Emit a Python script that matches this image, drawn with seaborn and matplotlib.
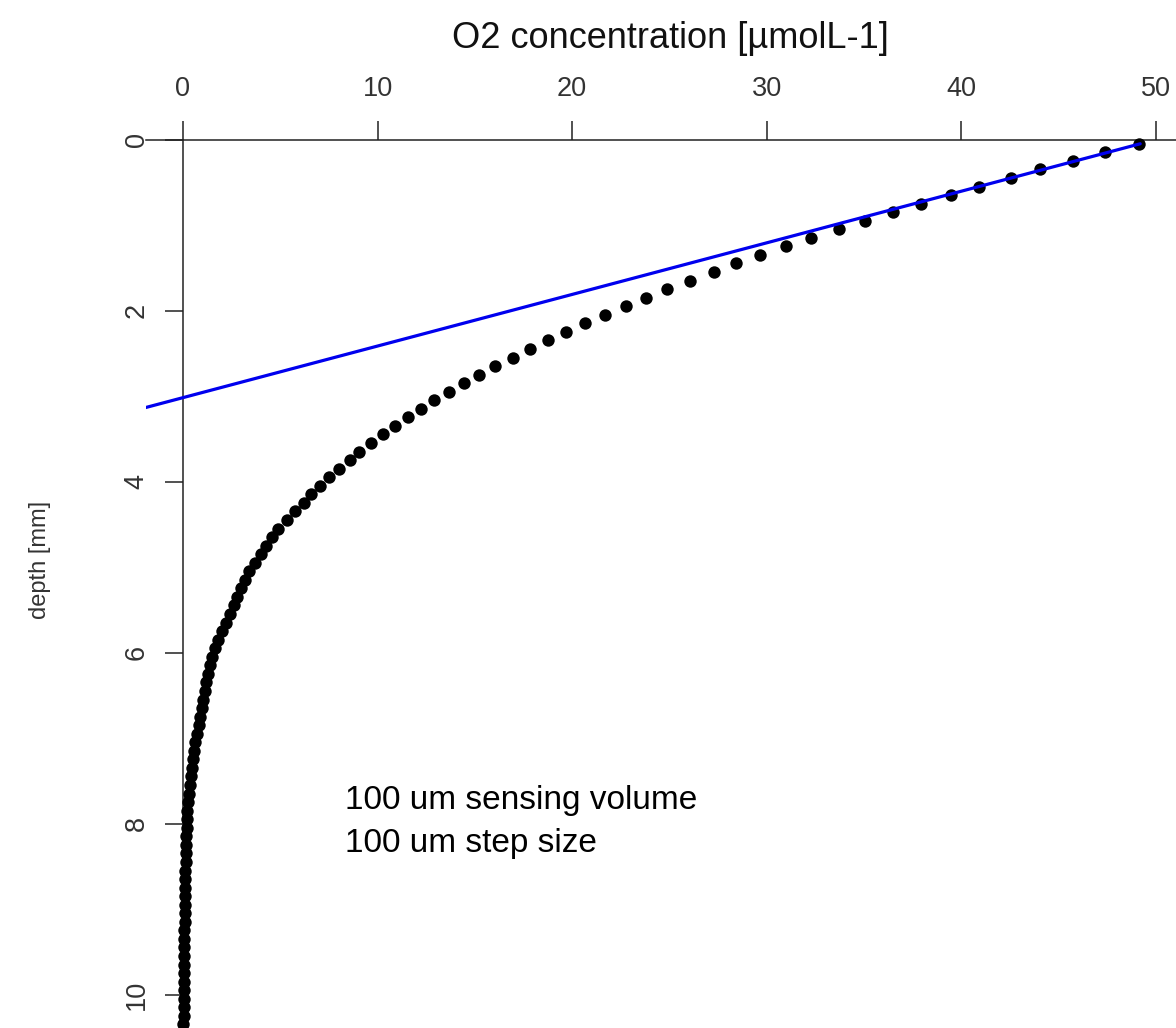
import matplotlib
matplotlib.use("Agg")
import matplotlib.pyplot as plt
import seaborn as sns
import pandas as pd

# ---- data ----
depth_mm = [0.05, 0.15, 0.25, 0.35, 0.45, 0.55, 0.65, 0.75, 0.85, 0.95,
            1.05, 1.15, 1.25, 1.35, 1.45, 1.55, 1.65, 1.75, 1.85, 1.95,
            2.05, 2.15, 2.25, 2.35, 2.45, 2.55, 2.65, 2.75, 2.85, 2.95,
            3.05, 3.15, 3.25, 3.35, 3.45, 3.55, 3.65, 3.75, 3.85, 3.95,
            4.05, 4.15, 4.25, 4.35, 4.45, 4.55, 4.65, 4.75, 4.85, 4.95,
            5.05, 5.15, 5.25, 5.35, 5.45, 5.55, 5.65, 5.75, 5.85, 5.95,
            6.05, 6.15, 6.25, 6.35, 6.45, 6.55, 6.65, 6.75, 6.85, 6.95,
            7.05, 7.15, 7.25, 7.35, 7.45, 7.55, 7.65, 7.75, 7.85, 7.95,
            8.05, 8.15, 8.25, 8.35, 8.45, 8.55, 8.65, 8.75, 8.85, 8.95,
            9.05, 9.15, 9.25, 9.35, 9.45, 9.55, 9.65, 9.75, 9.85, 9.95,
            10.05, 10.15, 10.25, 10.35, 10.45]
o2_conc = [49.15, 47.40, 45.73, 44.05, 42.54, 40.89, 39.46, 37.91, 36.47, 35.03,
           33.70, 32.29, 31.02, 29.65, 28.42, 27.29, 26.05, 24.88, 23.82, 22.76,
           21.70, 20.67, 19.71, 18.77, 17.83, 16.94, 16.06, 15.20, 14.45, 13.66,
           12.90, 12.22, 11.57, 10.88, 10.30, 9.64, 9.05, 8.57, 8.02, 7.51,
           7.03, 6.60, 6.21, 5.78, 5.34, 4.89, 4.57, 4.28, 3.99, 3.70,
           3.41, 3.19, 2.96, 2.78, 2.60, 2.40, 2.20, 2.00, 1.80, 1.64,
           1.51, 1.39, 1.29, 1.20, 1.12, 1.04, 0.96, 0.88, 0.80, 0.72,
           0.64, 0.57, 0.50, 0.44, 0.39, 0.34, 0.29, 0.26, 0.23, 0.21,
           0.19, 0.17, 0.16, 0.15, 0.14, 0.13, 0.12, 0.11, 0.10, 0.09,
           0.09, 0.08, 0.07, 0.07, 0.06, 0.06, 0.05, 0.05, 0.04, 0.04,
           0.03, 0.03, 0.03, 0.02, 0.02]

fit_o2 = [49.2, -2.0]
fit_depth = [0.05, 3.14]

x_ticks = [0, 10, 20, 30, 40, 50]
y_ticks = [0, 2, 4, 6, 8, 10]

xlabel = "O2 concentration [µmolL-1]"
ylabel = "depth [mm]"
note_lines = ["100 um sensing volume", "100 um step size"]

# ---- styling ----
sns.set_style("white")
plt.rcParams["font.family"] = ["Liberation Sans", "DejaVu Sans"]

W, H = 1176, 1028
fig = plt.figure(figsize=(W / 100, H / 100), dpi=100)
fig.patch.set_facecolor("white")

x_lo, x_hi = -1.9, 52.0
y_top, y_bot = 0.0, 10.5
left_px, top_px = 146.0, 139.5
px_per_x = 19.456
px_per_y = 85.5
right_px = left_px + (x_hi - x_lo) * px_per_x
bot_px = top_px + (y_bot - y_top) * px_per_y
ax = fig.add_axes([left_px / W, 1 - bot_px / H,
                   (right_px - left_px) / W, (bot_px - top_px) / H])
ax.set_facecolor("white")

df = pd.DataFrame({"o2": o2_conc, "depth": depth_mm})
sns.scatterplot(data=df, x="o2", y="depth", color="black", s=80,
                linewidth=0, ax=ax, zorder=3, clip_on=False)
fit_df = pd.DataFrame({"o2": fit_o2, "depth": fit_depth})
sns.lineplot(data=fit_df, x="o2", y="depth", sort=False, estimator=None,
             color="#0000ee", linewidth=2.3, ax=ax, zorder=4)

ax.set_xlim(x_lo, x_hi)
ax.set_ylim(y_bot, y_top)

axis_col = "#222222"
for side in ["right", "bottom"]:
    ax.spines[side].set_visible(False)
ax.spines["left"].set_position(("data", 0))
for side in ["top", "left"]:
    ax.spines[side].set_color(axis_col)
    ax.spines[side].set_linewidth(1.1)

ax.xaxis.tick_top()
ax.xaxis.set_label_position("top")
ax.set_xticks(x_ticks)
ax.set_yticks(y_ticks)
ax.set_xticklabels([str(v) for v in x_ticks])
ax.set_yticklabels([str(v) for v in y_ticks], rotation=90, va="center")
ax.tick_params(axis="x", top=True, bottom=False, direction="out", length=14,
               width=1.1, color=axis_col, pad=13, labelsize=19.5,
               labelcolor="#333333")
ax.tick_params(axis="y", left=True, right=False, direction="out", length=13,
               width=1.1, color=axis_col, pad=11, labelsize=19.5,
               labelcolor="#333333")

ax.set_xlabel(xlabel, fontsize=26, color="#111111", labelpad=20)
ax.set_ylabel("")
fig.text(40 / W, 1 - 560 / H, ylabel, rotation=90, ha="center", va="center",
         fontsize=17, color="#333333")

ax.text(8.31, 7.73, note_lines[0], fontsize=24, color="black",
        ha="left", va="center")
ax.text(8.31, 8.23, note_lines[1], fontsize=24, color="black",
        ha="left", va="center")

fig.savefig("out.png", dpi=100, facecolor="white")
